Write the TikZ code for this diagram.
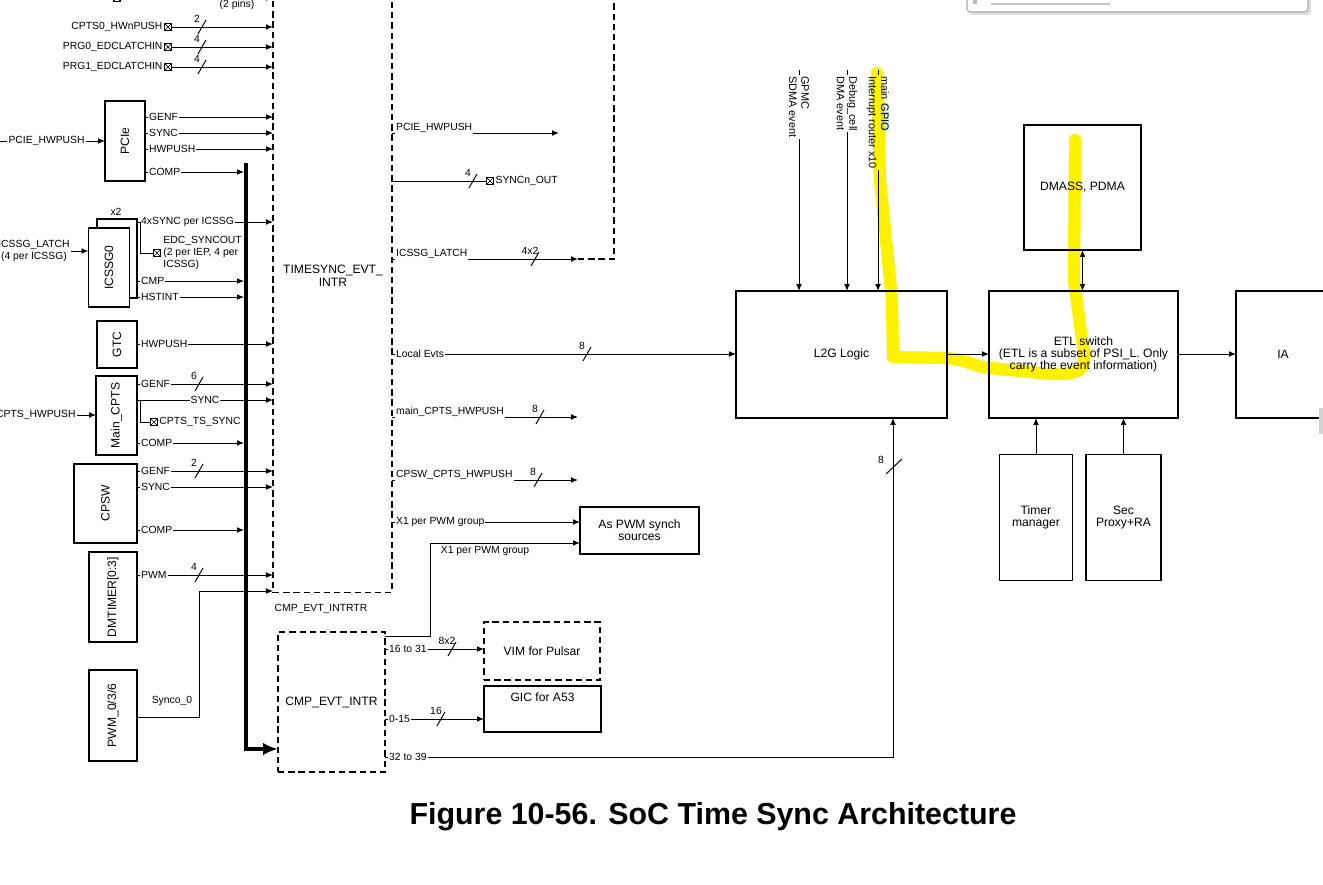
\documentclass[tikz,border=0pt]{standalone}
\usepackage{fontspec}
\usepackage{graphicx}
\setmainfont{Liberation Sans}
\usetikzlibrary{arrows.meta}

\tikzset{
  blk/.style={draw, line width=1.1pt, inner sep=0pt, outer sep=0pt, fill=white,
    align=center, font=\fontsize{6.9}{7}\selectfont},
  dblk/.style={blk, line width=1pt, dash pattern=on 3.6pt off 2.2pt},
  dsh/.style={line width=1pt, dash pattern=on 3.6pt off 2.2pt},
  wire/.style={line width=0.55pt},
  sig/.style={wire, -{Latex[length=1.4mm,width=1.15mm]}},
  tobus/.style={sig, shorten >=1.1pt},
  lbl/.style={fill=white, inner sep=0.6pt, align=left, font=\fontsize{5.9}{6.9}\selectfont},
  inl/.style={lbl, pos=0, anchor=west, xshift=1.5pt},
  upl/.style={inl, yshift=2.8pt},
  vlbl/.style={lbl, rotate=-90, anchor=west, font=\fontsize{6.2}{7}\selectfont},
  num/.style={inner sep=0pt, font=\fontsize{5.9}{6.9}\selectfont},
  xbox/.style={draw, line width=0.5pt, minimum size=0.15cm, inner sep=0pt, fill=white,
    path picture={\draw[line width=0.4pt]
      (path picture bounding box.north west) -- (path picture bounding box.south east)
      (path picture bounding box.north east) -- (path picture bounding box.south west);}},
}
% bus width mark: x, y, count
\newcommand{\busmark}[3]{%
  \draw[wire] (#1-4,#2+7) -- (#1+4,#2-7);
  \node[num] (bm-#1-#2) at (#1-5,#2-8) {#3};}

\begin{document}
\begin{tikzpicture}[x=0.02cm, y=-0.02cm]
\useasboundingbox (0,0) rectangle (1323,885);

% timesync router
\node[dblk, minimum width=2.38cm, minimum height=12.3cm] (ts) at (332.5,285) {};
\node[font=\fontsize{6.9}{7.2}\selectfont, align=center] (tstxt) at (333,276) {TIMESYNC\_EVT\_\\INTR};
\draw[dsh] (578,259) -- (614,259) -- (614,-20);

% source blocks
\node[blk, minimum width=0.8cm, minimum height=1.6cm] (pcie) at (125,141) {\rotatebox{90}{PCIe}};
\node[blk, minimum width=0.8cm, minimum height=1.58cm] (icssgb) at (117,258.5) {};
\node[blk, minimum width=0.82cm, minimum height=1.58cm] (icssg) at (109,267.5) {\rotatebox{90}{ICSSG0}};
\node[num] (x2) at (116,212) {x2};
\node[blk, minimum width=0.8cm, minimum height=0.94cm] (gtc) at (117,344.5) {\rotatebox{90}{GTC}};
\node[blk, minimum width=0.82cm, minimum height=1.58cm] (mcpts) at (116.5,415.5) {\rotatebox{90}{Main\_CPTS}};
\node[blk, minimum width=1.26cm, minimum height=1.58cm] (cpsw) at (105.5,503.5) {\rotatebox{90}{CPSW}};
\node[blk, minimum width=0.96cm, minimum height=1.8cm] (dmt) at (113,597) {\rotatebox{90}{DMTIMER[0:3]}};
\node[blk, minimum width=0.96cm, minimum height=1.82cm] (pwm) at (113,715.5) {\rotatebox{90}{PWM\_0/3/6}};

% compare event router and targets
\node[dblk, minimum width=2.14cm, minimum height=2.8cm] (cmp) at (331.5,702) {CMP\_EVT\_INTR};
\node[num] (cmptxt) at (321,609) {CMP\_EVT\_INTRTR};
\node[blk, minimum width=2.38cm, minimum height=0.94cm] (pwms) at (639.5,530.5) {As PWM synch\\sources};
\node[dblk, minimum width=2.32cm, minimum height=1.16cm] (vim) at (542,651) {VIM for Pulsar};
\node[blk, minimum width=2.34cm, minimum height=0.92cm] (gic) at (542.5,709) {};
\node[font=\fontsize{6.9}{7}\selectfont] (gictxt) at (542.5,697) {GIC for A53};

% right side
\node[blk, minimum width=4.22cm, minimum height=2.54cm] (l2g) at (841.5,354.5) {L2G Logic};
\node[blk, minimum width=3.78cm, minimum height=2.54cm] (etl) at (1083.5,354.5) {ETL switch\\(ETL is a subset of PSI\_L. Only\\carry the event information)};
\node[blk, minimum width=1.88cm, minimum height=2.54cm] (ia) at (1283,354.5) {IA};
\node[blk, minimum width=2.34cm, minimum height=2.5cm] (dmass) at (1082.5,187.5) {DMASS, PDMA};
\node[blk, minimum width=1.46cm, minimum height=2.52cm] (tmgr) at (1036,517.5) {Timer\\manager};
\node[blk, minimum width=1.5cm, minimum height=2.52cm] (secp) at (1123.5,517.5) {Sec\\Proxy+RA};

% pin inputs
\node[xbox] (xtop) at (117,-2) {};
\draw[sig] (xtop.east) -- (ts.west |- xtop);
\node[num] (pins) at (237,5) {(2 pins)};
\foreach \y/\t/\n [count=\i] in {27/CPTS0\_HWnPUSH/2, 47/PRG0\_EDCLATCHIN/4, 67/PRG1\_EDCLATCHIN/4} {
  \node[xbox] (px\i) at (168,\y) {};
  \node[lbl, anchor=east] (pl\i) at (px\i.west) {\t};
  \draw[sig] (px\i.east) -- (ts.west |- px\i);
  \busmark{202}{\y}{\n}
}

% PCIe
\node[lbl, anchor=east] (pcieh) at (86,141) {PCIE\_HWPUSH};
\draw[wire] (0,141) -- (pcieh.west);
\draw[sig] (pcieh.east) -- (pcie.west);
\foreach \y/\t [count=\i] in {117/GENF, 133/SYNC, 149/HWPUSH}
  \draw[sig] (pcie.east |- 0,\y) -- (ts.west |- 0,\y) node[inl] (pcie-o\i) {\t};

% thick bus into CMP_EVT_INTR
\coordinate (bustop) at (246,163);
\draw[line width=2.5pt, -{Latex[length=0.3cm,width=0.25cm]}] (bustop) |- (cmp.west |- 0,749);
\draw[tobus] (pcie.east |- 0,172) -- (bustop |- 0,172) node[inl] (pcie-c) {COMP};

% ICSSG
\node[lbl, anchor=east, align=center] (iclat) at (71,251) {ICSSG\_LATCH\\(4 per ICSSG)};
\draw[sig] (iclat.east) -- (icssg.west |- iclat);
\draw[sig] (icssgb.east |- 0,222) -- (ts.west |- 0,222) node[inl] (ic-s) {4xSYNC per ICSSG};
\coordinate (edcj) at (140,222);
\node[xbox] (edcx) at (157,253) {};
\draw[wire] (edcj) |- (edcx.west);
\node[lbl, fill=none, anchor=west] (edc) at (162,253) {EDC\_SYNCOUT\\(2 per IEP, 4 per\\ICSSG)};
\draw[tobus] (icssgb.east |- 0,281) -- (bustop |- 0,281) node[inl] (ic-c) {CMP};
\draw[tobus] (icssgb.east |- 0,297) -- (bustop |- 0,297) node[inl] (ic-h) {HSTINT};

% GTC
\draw[sig] (gtc.east |- 0,344) -- (ts.west |- 0,344) node[inl] (gtc-h) {HWPUSH};

% Main_CPTS
\node[lbl, anchor=east] (cptsh) at (77,415) {CPTS\_HWPUSH};
\draw[sig] (cptsh.east) -- (mcpts.west |- cptsh);
\draw[sig] (mcpts.east |- 0,384) -- (ts.west |- 0,384) node[inl] (mc-g) {GENF};
\busmark{199}{384}{6}
\draw[sig] (mcpts.east |- 0,400) -- (ts.west |- 0,400) node[lbl, pos=0.5] (mc-s) {SYNC};
\coordinate (cj) at (140,400);
\node[xbox] (tsx) at (154,422) {};
\draw[wire] (cj) |- (tsx.west);
\node[lbl, anchor=west] (tss) at (158,422) {CPTS\_TS\_SYNC};
\draw[tobus] (mcpts.east |- 0,443) -- (bustop |- 0,443) node[inl] (mc-c) {COMP};

% CPSW
\draw[sig] (cpsw.east |- 0,471) -- (ts.west |- 0,471) node[inl] (cp-g) {GENF};
\busmark{199}{471}{2}
\draw[sig] (cpsw.east |- 0,487) -- (ts.west |- 0,487) node[inl] (cp-s) {SYNC};
\draw[tobus] (cpsw.east |- 0,530) -- (bustop |- 0,530) node[inl] (cp-c) {COMP};

% DMTIMER, PWM
\draw[sig] (dmt.east |- 0,575) -- (ts.west |- 0,575) node[inl] (dm-p) {PWM};
\busmark{199}{575}{4}
\draw[sig] (pwm.east |- 0,717) -| (199,591) -- (ts.west |- 0,591);
\node[num] (synco) at (172,701) {Synco\_0};

% TIMESYNC outputs
\draw[sig] (ts.east |- 0,133) -- (559,133) node[upl] (o-pcie) {PCIE\_HWPUSH};
\node[xbox] (syncx) at (490,181) {};
\draw[wire] (ts.east |- syncx) -- (syncx.west);
\busmark{473}{181}{4}
\node[lbl, anchor=west] (synco-l) at (syncx.east) {SYNCn\_OUT};
\draw[sig] (ts.east |- 0,259) -- (578,259) node[upl] (o-icl) {ICSSG\_LATCH};
\busmark{535}{259}{4x2}
\draw[sig] (ts.east |- 0,354) -- (l2g.west |- 0,354) node[inl] (o-loc) {Local Evts};
\busmark{587}{354}{8}
\draw[sig] (ts.east |- 0,417) -- (578,417) node[upl] (o-mc) {main\_CPTS\_HWPUSH};
\busmark{540}{417}{8}
\draw[sig] (ts.east |- 0,480) -- (578,480) node[upl] (o-cp) {CPSW\_CPTS\_HWPUSH};
\busmark{538}{480}{8}
\draw[sig] (ts.east |- 0,522) -- (pwms.west |- 0,522) node[inl] (o-x1) {X1 per PWM group};

% CMP_EVT_INTR outputs
\draw[sig] (cmp.east |- 0,636) -| (430,543) -- (pwms.west |- 0,543);
\node[num] (x1b) at (485,551) {X1 per PWM group};
\draw[sig] (cmp.east |- 0,649) -- (vim.west |- 0,649) node[inl] (c-16) {16 to 31};
\busmark{452}{649}{8x2}
\draw[sig] (cmp.east |- 0,719) -- (gic.west |- 0,719) node[inl] (c-0) {0-15};
\busmark{441}{719}{16}
\coordinate (c32) at (893,757);
\draw[sig] (cmp.east |- c32) node[lbl, anchor=west, xshift=1.5pt] (c-32) {32 to 39} -- (c32) -- (c32 |- l2g.south);
\draw[wire] (886,474) -- (902,459);
\node[num] (n8v) at (881,460) {8};

% event inputs into L2G
\coordinate (gpmc) at (799,70);
\coordinate (dbg) at (847,70);
\coordinate (gpio) at (878,70);
\foreach \c in {gpmc,dbg,gpio}
  \draw[sig] (\c) -- (\c |- l2g.north);
\node[vlbl] (gpmc-l) at (799,75) {GPMC\\SDMA event};
\node[vlbl] (dbg-l) at (847,75) {Debug\_cell\\DMA event};
\node[vlbl] (gpio-l) at (878,75) {main {\setlength{\fboxsep}{0.3pt}\colorbox{cyan!18}{GPIO}}\\Interrupt router x10};

% ETL connections
\draw[sig] (l2g.east |- 0,354) -- (etl.west |- 0,354);
\draw[sig] (etl.east |- 0,354) -- (ia.west |- 0,354);
\draw[wire, {Latex[length=1.4mm,width=1.15mm]}-{Latex[length=1.4mm,width=1.15mm]}] (dmass.south) -- (dmass.south |- etl.north);
\draw[sig] (tmgr.north) -- (tmgr.north |- etl.south);
\draw[sig] (secp.north) -- (secp.north |- etl.south);

% title
\node[font=\bfseries\fontsize{17.3}{20}\selectfont] (title) at (713,817) {Figure 10-56. SoC Time Sync Architecture};

% screen leftovers
\fill[gray!25, rounded corners=2pt] (969,-20) rectangle (1311,15);
\draw[gray!65, fill=white, rounded corners=2pt, line width=0.6pt] (967,-20) rectangle (1308,12);
\draw[gray!45, line width=0.8pt] (991,4) -- (1110,4);
\fill[gray!55] (973,-2) rectangle (977,4);
\fill[gray!35] (1319,408) rectangle (1323,434);

% highlighter stroke
\draw[yellow, line width=7pt, line cap=round, line join=round, blend mode=multiply]
  (877,73) -- (880,180) -- (886,240) -- (892,300) -- (893,357) -- (947,358)
  .. controls (965,359) and (975,367) .. (990,368) -- (1050,374)
  .. controls (1085,375) and (1088,368) .. (1082,340) -- (1074,280) -- (1075,140);
\end{tikzpicture}
\end{document}
